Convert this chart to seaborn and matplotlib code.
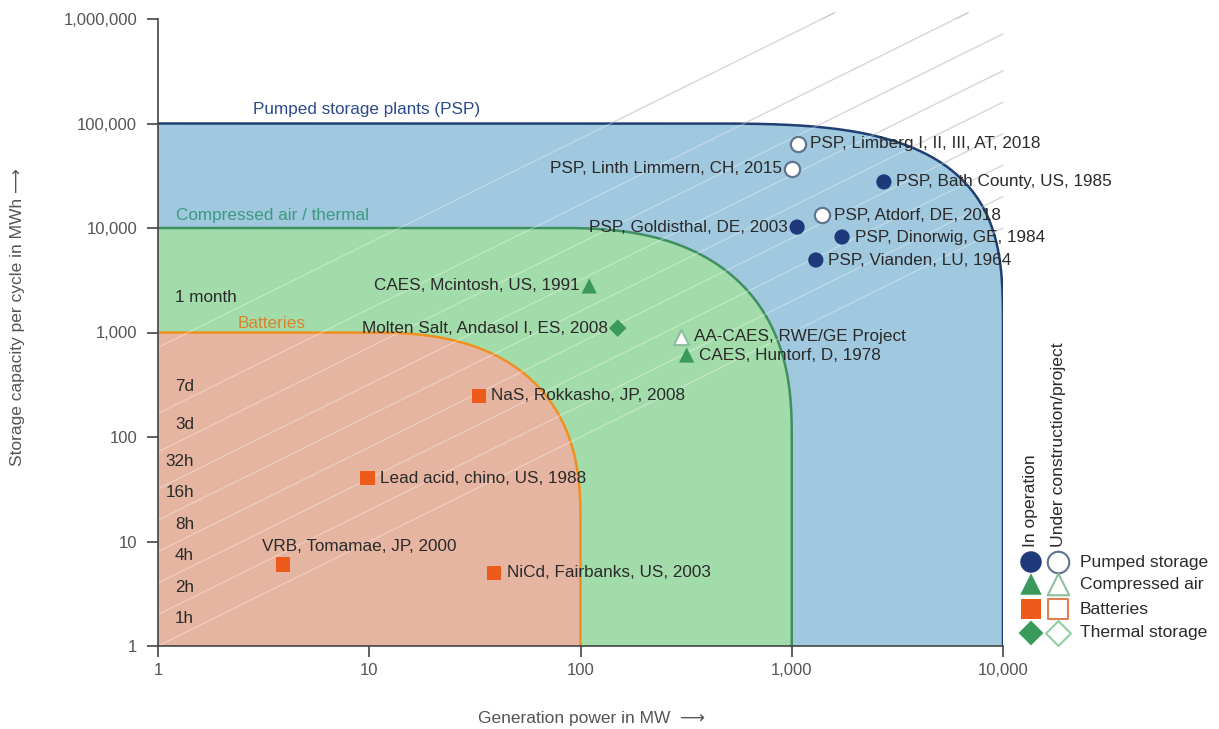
import numpy as np
import pandas as pd
import matplotlib
matplotlib.use("Agg")
import matplotlib.pyplot as plt
import seaborn as sns
from matplotlib.ticker import FixedLocator, FuncFormatter, NullLocator

# ---------------------------------------------------------------------------
# Data
# ---------------------------------------------------------------------------
# Technology envelopes: maximum generation power (MW) and capacity (MWh)
region_names = ["Pumped storage plants (PSP)", "Compressed air / thermal", "Batteries"]
region_power_max = [10000, 1000, 100]
region_capacity_max = [100000, 10000, 1000]

# Individual plants
plant_labels = [
    "PSP, Limberg I, II, III, AT, 2018",
    "PSP, Linth Limmern, CH, 2015",
    "PSP, Bath County, US, 1985",
    "PSP, Atdorf, DE, 2018",
    "PSP, Goldisthal, DE, 2003",
    "PSP, Dinorwig, GE, 1984",
    "PSP, Vianden, LU, 1964",
    "CAES, Mcintosh, US, 1991",
    "Molten Salt, Andasol I, ES, 2008",
    "AA-CAES, RWE/GE Project",
    "CAES, Huntorf, D, 1978",
    "NaS, Rokkasho, JP, 2008",
    "Lead acid, chino, US, 1988",
    "VRB, Tomamae, JP, 2000",
    "NiCd, Fairbanks, US, 2003",
]
plant_power = [1070, 1000, 2730, 1390, 1060, 1730, 1300,
               110, 150, 300, 318, 33, 9.8, 3.9, 39]
plant_capacity = [64000, 36700, 27600, 13300, 10200, 8200, 4940,
                  2790, 1100, 906, 609, 247, 40.5, 6.0, 5.0]
plant_type = ["Pumped storage"] * 7 + ["Compressed air", "Thermal storage",
              "Compressed air", "Compressed air"] + ["Batteries"] * 4
plant_status = ["Under construction/project", "Under construction/project",
                "In operation", "Under construction/project", "In operation",
                "In operation", "In operation",
                "In operation", "In operation", "Under construction/project",
                "In operation", "In operation", "In operation", "In operation",
                "In operation"]
label_side = ["right", "left", "right", "right", "left", "right", "right",
              "left", "left", "right", "right", "right", "right", "above", "right"]

# Storage durations (hours) shown as diagonal guides
duration_hours = [1, 2, 4, 8, 16, 32, 72, 168, 720]
duration_labels = ["1h", "2h", "4h", "8h", "16h", "32h", "3d", "7d", "1 month"]

x_ticks = [1, 10, 100, 1000, 10000]
y_ticks = [1, 10, 100, 1000, 10000, 100000, 1000000]

legend_types = ["Pumped storage", "Compressed air", "Batteries", "Thermal storage"]
legend_status = ["In operation", "Under construction/project"]

# ---------------------------------------------------------------------------
# Style
# ---------------------------------------------------------------------------
sns.set_style("ticks")
plt.rcParams["font.family"] = ["Liberation Sans", "DejaVu Sans"]

TEXT = "#2a2a2a"
TICK = "#555555"
FS = 12.3

region_fill = ["#a0c8de", "#a3dcab", "#e6b5a1"]
region_edge = ["#1f3f73", "#3f8f60", "#f0901e"]
region_text = ["#2b4a8a", "#3a9a80", "#d9842a"]
# label anchor (left x, vertical centre) for each region name
region_label_xy = [(2.82, 1.35e5), (1.22, 1.33e4), (2.39, 1.23e3)]
# corner shape (radius in decades along x, along y, superellipse exponent)
corner_rx = [1.45, 1.1, 1.0]
corner_ry = [2.0, 2.0, 1.8]
corner_n = [3.2, 2.5, 2.5]

type_color = {"Pumped storage": "#1f3a7a", "Compressed air": "#3a9a5c",
              "Batteries": "#ee5a1a", "Thermal storage": "#3a9a5c"}
open_edge = {"Pumped storage": "#5f7590", "Compressed air": "#8fbf9f",
             "Batteries": "#e08050", "Thermal storage": "#8fcfa0"}
type_marker = {"Pumped storage": "o", "Compressed air": "^",
               "Batteries": "s", "Thermal storage": "D"}
type_size = {"Pumped storage": 120, "Compressed air": 120,
             "Batteries": 110, "Thermal storage": 80}

W, H = 1219, 729
fig = plt.figure(figsize=(W / 100, H / 100), dpi=100)
ax_l, ax_r, ax_t, ax_b = 158, 1003, 19, 646
ax = fig.add_axes([ax_l / W, 1 - ax_b / H, (ax_r - ax_l) / W, (ax_b - ax_t) / H])
ax.set_xscale("log")
ax.set_yscale("log")
ax.set_xlim(x_ticks[0], x_ticks[-1])
ax.set_ylim(y_ticks[0], y_ticks[-1])


def envelope(xmax, ymax, rx, ry, n, npts=300):
    """Rounded-corner envelope drawn in log space."""
    lx, ly = np.log10(xmax), np.log10(ymax)
    cx, cy = lx - rx, ly - ry
    t = np.linspace(np.pi / 2, 0, npts)
    ex = cx + rx * np.cos(t) ** (2 / n)
    ey = cy + ry * np.sin(t) ** (2 / n)
    xs = np.concatenate([[0], ex, [lx]])
    ys = np.concatenate([[ly], ey, [0]])
    return 10 ** xs, 10 ** ys


# Duration guides beneath the fills (visible on white background)
for h in duration_hours:
    xe = min(x_ticks[-1], 1.15e6 / h)
    xs = np.array([1.0, xe])
    ax.plot(xs, xs * h, color="#c4c4c4", lw=0.9, zorder=1, clip_on=False)

# Technology envelopes
for i in range(len(region_names)):
    ex, ey = envelope(region_power_max[i], region_capacity_max[i],
                      corner_rx[i], corner_ry[i], corner_n[i])
    ax.fill(np.r_[ex, 1.0], np.r_[ey, 1.0], color=region_fill[i], lw=0, zorder=2 + i)
    ax.plot(ex, ey, color=region_edge[i], lw=1.8, zorder=2.5 + i, solid_capstyle="butt")
    lx, ly = region_label_xy[i]
    ax.text(lx, ly, region_names[i], color=region_text[i], fontsize=FS,
            ha="left", va="center", zorder=8)

# Duration guides over the fills
for h in duration_hours:
    xe = min(x_ticks[-1], 1.15e6 / h)
    xs = np.array([1.0, xe])
    ax.plot(xs, xs * h, color="white", lw=0.9, alpha=0.35, zorder=6)

# Duration labels
for h, lab in zip(duration_hours, duration_labels):
    if h == 720:
        ax.text(1.2, h * 3.0, lab, color=TEXT, fontsize=FS, ha="left",
                va="center", zorder=8)
    else:
        ax.text(1.48, h * 1.82, lab, color=TEXT, fontsize=FS, ha="right",
                va="center", zorder=8)

# Plants
df = pd.DataFrame({"label": plant_labels, "power": plant_power,
                   "capacity": plant_capacity, "type": plant_type,
                   "status": plant_status, "side": label_side})

for (ptype, status), grp in df.groupby(["type", "status"]):
    filled = status == "In operation"
    sns.scatterplot(data=grp, x="power", y="capacity", ax=ax,
                    marker=type_marker[ptype], s=type_size[ptype],
                    color=type_color[ptype] if filled else "white",
                    edgecolor="none" if filled else open_edge[ptype],
                    linewidth=0 if filled else 1.6, zorder=9, legend=False)

for _, r in df.iterrows():
    if r.side == "right":
        off, ha, va = (9, 0), "left", "center"
    elif r.side == "left":
        off, ha, va = (-7, 0), "right", "center"
    else:
        off, ha, va = (-15, 8), "left", "bottom"
    ax.annotate(r.label, (r.power, r.capacity), xytext=off,
                textcoords="offset points", ha=ha, va=va, color=TEXT,
                fontsize=FS, zorder=10)

# Axes styling
for s in ["top", "right"]:
    ax.spines[s].set_visible(False)
for s in ["left", "bottom"]:
    ax.spines[s].set_color("#444444")
    ax.spines[s].set_linewidth(1.2)
    ax.spines[s].set_zorder(12)
ax.xaxis.set_major_locator(FixedLocator(x_ticks))
ax.yaxis.set_major_locator(FixedLocator(y_ticks))
ax.xaxis.set_minor_locator(NullLocator())
ax.yaxis.set_minor_locator(NullLocator())
fmt = FuncFormatter(lambda v, p: f"{v:,.0f}")
ax.xaxis.set_major_formatter(fmt)
ax.yaxis.set_major_formatter(fmt)
ax.tick_params(axis="both", length=8, width=1.2, color="#444444",
               labelcolor=TICK, labelsize=12)
ax.tick_params(axis="x", pad=4)
ax.tick_params(axis="y", pad=7)
ax.set_xlabel("")
ax.set_ylabel("")

fig.text(478 / W, 1 - 718 / H, "Generation power in MW  \u27f6", ha="left",
         va="center", fontsize=12.5, color=TICK)
fig.text(18 / W, 1 - 317 / H, "Storage capacity per cycle in MWh \u27f6",
         ha="center", va="center", rotation=90, fontsize=12.5, color=TICK)

# Legend (symbol matrix: status columns, technology rows)
def axc(px, py):
    return (px - ax_l) / (ax_r - ax_l), (ax_b - py) / (ax_b - ax_t)

col_px = [1031, 1058]
row_py = [562, 584, 609, 633]
for j, status in enumerate(legend_status):
    x, y = axc(col_px[j], 547)
    ax.text(x, y, status, transform=ax.transAxes, rotation=90, ha="center",
            va="bottom", fontsize=12.6, color=TEXT, clip_on=False)
for i, ptype in enumerate(legend_types):
    for j, status in enumerate(legend_status):
        filled = j == 0
        x, y = axc(col_px[j], row_py[i])
        ax.scatter([x], [y], transform=ax.transAxes, clip_on=False,
                   marker=type_marker[ptype], s=type_size[ptype] * 2.0,
                   color=type_color[ptype] if filled else "white",
                   edgecolor="none" if filled else open_edge[ptype],
                   linewidth=0 if filled else 1.5, zorder=12)
    x, y = axc(1080, row_py[i])
    ax.text(x, y, ptype, transform=ax.transAxes, ha="left", va="center",
            fontsize=12.6, color=TEXT, clip_on=False)

fig.savefig("out.png", dpi=100)
